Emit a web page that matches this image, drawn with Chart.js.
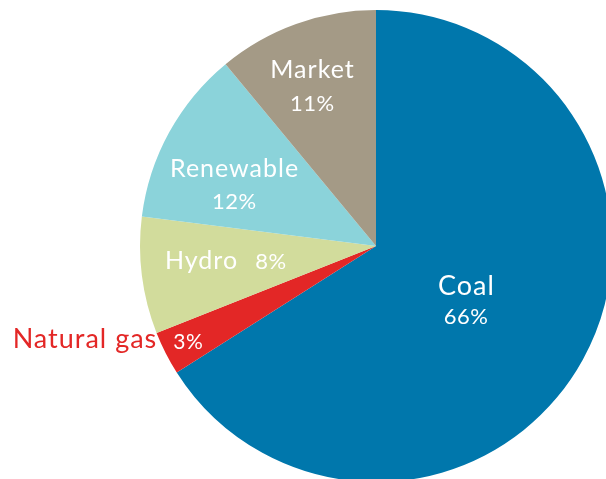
<!DOCTYPE html>
<html>
<head>
<meta charset="utf-8">
<script src="https://cdn.jsdelivr.net/npm/chart.js@4/dist/chart.umd.min.js"></script>
<style>
  html, body { margin: 0; padding: 0; background: #fff; overflow: hidden; width: 606px; height: 479px; }
  #wrap { position: absolute; left: 0; top: 0; width: 752px; height: 492px; }
</style>
</head>
<body>
<div id="wrap"><canvas id="pie" width="752" height="492"></canvas></div>
<script>
// Electricity supply mix, percent share by source (clockwise from 12 o'clock)
const categories = ['Coal', 'Natural gas', 'Hydro', 'Renewable', 'Market'];
const shares = [66, 3, 8, 12, 11];
const sliceColors = ['#0077AC', '#E32726', '#D2DC9C', '#8BD3DA', '#A49A86'];

const FONT = 'Lato, "Open Sans", sans-serif';

// Label placement per slice: angle nudge (deg) from mid-angle, radius fraction,
// layout mode and font sizes.
const labelLayout = [
  { dAngle: 6.4,  frac: 0.466, mode: 'stack',   nameSize: 27, pctSize: 22, gap: 29, color: '#fff' },
  { dAngle: -1.7, frac: 0.908, mode: 'outside', nameSize: 27, pctSize: 21, gap: 17, color: '#fff', nameColor: '#E32726' },
  { dAngle: -1.5, frac: 0.645, mode: 'inline',  nameSize: 25, pctSize: 22, gap: 18, color: '#fff' },
  { dAngle: -8.3, frac: 0.642, mode: 'stack',   nameSize: 25, pctSize: 22, gap: 32, color: '#fff' },
  { dAngle: -3.1, frac: 0.697, mode: 'stack',   nameSize: 25, pctSize: 22, gap: 33, color: '#fff' }
];

const NAME_SPACING = 1;
const PCT_SPACING = 0.5;

const sliceLabels = {
  id: 'sliceLabels',
  afterDatasetsDraw(chart) {
    const ctx = chart.ctx;
    const meta = chart.getDatasetMeta(0);
    const setFont = (size, spacing) => {
      ctx.font = `${size}px ${FONT}`;
      ctx.letterSpacing = spacing + 'px';
    };
    // width without the trailing letter gap
    const width = (txt, spacing) => ctx.measureText(txt).width - spacing;
    meta.data.forEach((arc, i) => {
      const p = arc.getProps(['x', 'y', 'startAngle', 'endAngle', 'outerRadius'], true);
      const L = labelLayout[i];
      const a = (p.startAngle + p.endAngle) / 2 + L.dAngle * Math.PI / 180;
      const r = p.outerRadius * L.frac;
      const ax = p.x + r * Math.cos(a);
      const ay = p.y + r * Math.sin(a);
      const name = chart.data.labels[i];
      const pct = chart.data.datasets[0].data[i] + '%';
      ctx.save();
      ctx.textBaseline = 'alphabetic';
      ctx.textAlign = 'left';
      if (L.mode === 'stack') {
        ctx.fillStyle = L.color;
        setFont(L.nameSize, NAME_SPACING);
        ctx.fillText(name, ax - width(name, NAME_SPACING) / 2, ay - L.gap / 2);
        setFont(L.pctSize, PCT_SPACING);
        ctx.fillText(pct, ax - width(pct, PCT_SPACING) / 2, ay + L.gap / 2);
      } else if (L.mode === 'inline') {
        setFont(L.nameSize, NAME_SPACING);
        const wName = width(name, NAME_SPACING);
        setFont(L.pctSize, PCT_SPACING);
        const wPct = width(pct, PCT_SPACING);
        const left = ax - (wName + L.gap + wPct) / 2;
        ctx.fillStyle = L.color;
        setFont(L.nameSize, NAME_SPACING);
        ctx.fillText(name, left, ay);
        setFont(L.pctSize, PCT_SPACING);
        ctx.fillText(pct, left + wName + L.gap, ay);
      } else {
        setFont(L.pctSize, PCT_SPACING);
        const wPct = width(pct, PCT_SPACING);
        ctx.fillStyle = L.color;
        ctx.fillText(pct, ax - wPct / 2, ay);
        ctx.fillStyle = L.nameColor;
        setFont(L.nameSize, NAME_SPACING);
        const wName = width(name, NAME_SPACING);
        ctx.fillText(name, ax - wPct / 2 - L.gap - wName, ay - 1);
      }
      ctx.restore();
    });
  }
};

new Chart(document.getElementById('pie'), {
  type: 'pie',
  data: {
    labels: categories,
    datasets: [{
      data: shares,
      backgroundColor: sliceColors,
      borderWidth: 0
    }]
  },
  options: {
    responsive: false,
    animation: false,
    layout: { padding: 10 },
    plugins: {
      legend: { display: false },
      tooltip: { enabled: false }
    }
  },
  plugins: [sliceLabels]
});
</script>
</body>
</html>
